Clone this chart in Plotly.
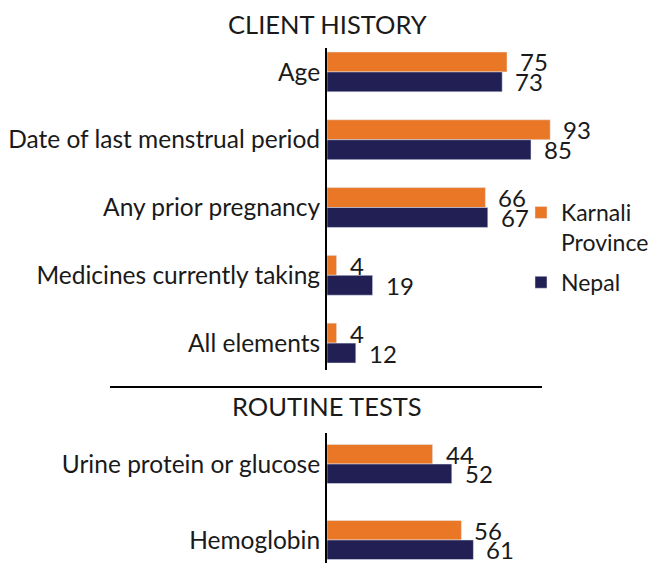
import plotly.graph_objects as go

# ---- data ----
history_categories = ["Age", "Date of last menstrual period", "Any prior pregnancy",
                      "Medicines currently taking", "All elements"]
history_karnali = [75, 93, 66, 4, 4]
history_nepal = [73, 85, 67, 19, 12]

tests_categories = ["Urine protein or glucose", "Hemoglobin"]
tests_karnali = [44, 56]
tests_nepal = [52, 61]

series_names = ["Karnali<br>Province", "Nepal"]
section_titles = ["CLIENT HISTORY", "ROUTINE TESTS"]

ORANGE = "#E97726"
NAVY = "#221F55"
FONT = "Lato"
TXT = "#1a1a1a"
W, H = 654, 563

fig = go.Figure()

def py(px):
    return (H - px) / H

x_dom = [327 / W, (327 + 240) / W]
top_w = 0.294
bot_w = 0.257

fig.add_trace(go.Bar(y=history_categories, x=history_karnali, orientation="h",
                     name=series_names[0], marker_color=ORANGE, width=top_w, offset=-top_w,
                     xaxis="x", yaxis="y", legendgroup="k", hoverinfo="x+y"))
fig.add_trace(go.Bar(y=history_categories, x=history_nepal, orientation="h",
                     name=series_names[1], marker_color=NAVY, width=top_w, offset=0,
                     xaxis="x", yaxis="y", legendgroup="n", hoverinfo="x+y"))
fig.add_trace(go.Bar(y=tests_categories, x=tests_karnali, orientation="h",
                     name=series_names[0], marker_color=ORANGE, width=bot_w, offset=-bot_w,
                     xaxis="x2", yaxis="y2", legendgroup="k", showlegend=False, hoverinfo="x+y"))
fig.add_trace(go.Bar(y=tests_categories, x=tests_nepal, orientation="h",
                     name=series_names[1], marker_color=NAVY, width=bot_w, offset=0,
                     xaxis="x2", yaxis="y2", legendgroup="n", showlegend=False, hoverinfo="x+y"))

annotations = []
def add_labels(cats, kv, nv, w, xref, yref):
    for i in range(len(cats)):
        for val, pos in ((kv[i], i - w / 2), (nv[i], i + w / 2)):
            annotations.append(dict(x=val, y=pos, xref=xref, yref=yref, text=str(val),
                                    showarrow=False, xanchor="left", yanchor="middle",
                                    xshift=11, font=dict(family=FONT, size=24, color=TXT)))

add_labels(history_categories, history_karnali, history_nepal, top_w, "x", "y")
add_labels(tests_categories, tests_karnali, tests_nepal, bot_w, "x2", "y2")

annotations.append(dict(x=327 / W, y=py(24), xref="paper", yref="paper", text=section_titles[0],
                        showarrow=False, xanchor="center", yanchor="middle",
                        font=dict(family=FONT, size=25.5, color=TXT)))
annotations.append(dict(x=327 / W, y=py(406), xref="paper", yref="paper", text=section_titles[1],
                        showarrow=False, xanchor="center", yanchor="middle",
                        font=dict(family=FONT, size=25.5, color=TXT)))

axis_common = dict(showgrid=False, zeroline=False, showticklabels=False, showline=False,
                   range=[0, 100], fixedrange=True)
yaxis_common = dict(showgrid=False, zeroline=False, showline=True, linecolor="black", linewidth=2,
                    ticks="", tickfont=dict(family=FONT, size=24.5, color=TXT), automargin=False)

fig.update_layout(
    width=W, height=H,
    margin=dict(l=0, r=0, t=0, b=0),
    paper_bgcolor="white", plot_bgcolor="white",
    barmode="group",
    xaxis=dict(domain=x_dom, anchor="y", **axis_common),
    xaxis2=dict(domain=x_dom, anchor="y2", **axis_common),
    yaxis=dict(domain=[py(370), py(48)], anchor="x", type="category",
               range=[4.397, -0.353], **yaxis_common),
    yaxis2=dict(domain=[py(563), py(433)], anchor="x2", type="category",
                range=[1.303, -0.408], **yaxis_common),
    annotations=annotations,
    shapes=[dict(type="line", xref="paper", yref="paper", x0=110 / W, x1=542 / W,
                 y0=py(387), y1=py(387), line=dict(color="black", width=2))],
    legend=dict(x=521 / W, y=py(191), xanchor="left", yanchor="top",
                font=dict(family=FONT, size=23, color=TXT),
                valign="top", itemwidth=30, tracegroupgap=7, bgcolor="rgba(0,0,0,0)"),
    showlegend=True,
)

fig.write_html("out.html", config={"displayModeBar": False},
               post_script="document.body.style.margin='0';document.body.style.padding='0';")
